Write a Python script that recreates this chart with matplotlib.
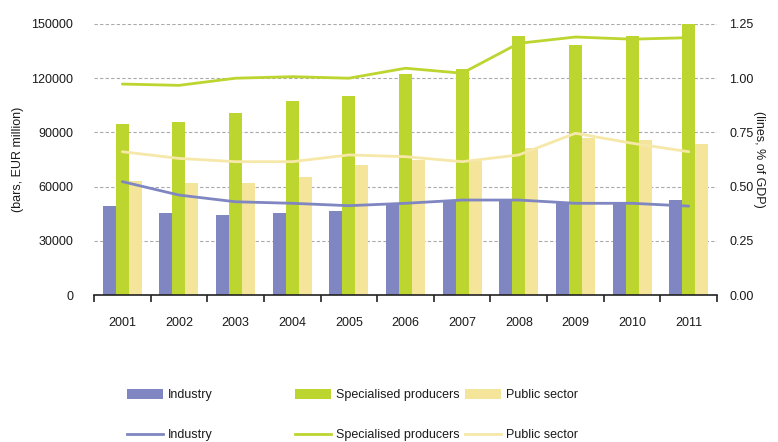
import matplotlib
matplotlib.use("Agg")
import matplotlib.pyplot as plt
import numpy as np
from matplotlib.ticker import FuncFormatter
from matplotlib.patches import Patch
from matplotlib.lines import Line2D

years = ["2001", "2002", "2003", "2004", "2005", "2006", "2007", "2008", "2009", "2010", "2011"]
industry_bars = [49500, 45500, 44300, 45400, 46500, 50700, 52600, 52000, 51000, 51000, 52600]
specialised_bars = [94500, 95800, 100700, 107200, 110300, 122300, 125100, 143500, 138200, 143500, 149800]
public_bars = [63100, 62200, 62200, 65500, 72000, 74700, 74300, 81200, 86700, 85800, 83600]

industry_line = [0.523, 0.461, 0.430, 0.423, 0.412, 0.423, 0.438, 0.438, 0.423, 0.423, 0.410]
specialised_line = [0.973, 0.967, 1.000, 1.007, 1.000, 1.046, 1.023, 1.161, 1.190, 1.180, 1.187]
public_line = [0.661, 0.630, 0.615, 0.615, 0.646, 0.638, 0.615, 0.646, 0.746, 0.700, 0.661]

left_ticks = [0, 30000, 60000, 90000, 120000, 150000]
right_ticks = [0.0, 0.25, 0.5, 0.75, 1.0, 1.25]

c_ind = "#7F86C1"
c_spe = "#BDD52F"
c_pub = "#F4E59B"
c_pub_line = "#F6E8A8"

plt.rcParams['font.family'] = ['Liberation Sans Narrow', 'Liberation Sans', 'DejaVu Sans']
fs = 9
tc = "#1a1a1a"

fig = plt.figure(figsize=(7.78, 4.42), dpi=100)
ax = fig.add_axes([94/778, 1-295/442, (717-94)/778, (295-24)/442])
ax2 = ax.twinx()

x = np.arange(len(years))
w = 0.23
ax.bar(x - w, industry_bars, w, color=c_ind, zorder=2)
ax.bar(x, specialised_bars, w, color=c_spe, zorder=2)
ax.bar(x + w, public_bars, w, color=c_pub, zorder=2)

ax.set_xlim(-0.5, len(years) - 0.5)
ax.set_ylim(0, 150000)
ax.set_yticks(left_ticks)
ax.yaxis.grid(True, linestyle=(0, (3, 2)), color="#AAAAAA", linewidth=0.8, zorder=0)
ax.set_axisbelow(True)
for s in ["top", "left", "right"]:
    ax.spines[s].set_visible(False)
ax.spines["bottom"].set_color("#222222")
ax.spines["bottom"].set_linewidth(1.2)
ax.set_xticks(x)
ax.set_xticklabels(years, fontsize=fs, color=tc)
ax.set_xticks(np.arange(-0.5, len(years)), minor=True)
ax.tick_params(axis="x", which="major", length=0, pad=16)
ax.tick_params(axis="x", which="minor", length=5, width=1.2, color="#222222", direction="out")
ax.tick_params(axis="y", length=0, pad=15, labelsize=fs, labelcolor=tc)
ax.set_ylabel("(bars, EUR million)", fontsize=fs, color=tc, labelpad=5)

ax2.plot(x, industry_line, color=c_ind, lw=2.0, solid_joinstyle="round", solid_capstyle="round")
ax2.plot(x, specialised_line, color=c_spe, lw=2.0, solid_joinstyle="round", solid_capstyle="round")
ax2.plot(x, public_line, color=c_pub_line, lw=2.0, solid_joinstyle="round", solid_capstyle="round")
ax2.set_ylim(0, 1.25)
ax2.set_yticks(right_ticks)
ax2.yaxis.set_major_formatter(FuncFormatter(lambda v, p: f"{v:.2f}"))
ax2.tick_params(axis="y", length=0, pad=9, labelsize=fs, labelcolor=tc)
for s in ["top", "left", "right", "bottom"]:
    ax2.spines[s].set_visible(False)
ax2.set_ylabel("(lines, % of GDP)", fontsize=fs, color=tc, rotation=-90, labelpad=8)

groups = [("Industry", c_ind, c_ind, 127), ("Specialised producers", c_spe, c_spe, 295),
          ("Public sector", c_pub, c_pub_line, 465)]
for name, bc, lc, px in groups:
    handles = [Patch(facecolor=bc, edgecolor="none"), Line2D([], [], color=lc, lw=2.0)]
    leg = fig.legend(handles, [name, name], loc="upper left",
                     bbox_to_anchor=(px/778, 1-389/442), frameon=False, fontsize=fs,
                     handlelength=2.9, handleheight=0.8, handletextpad=0.35,
                     labelspacing=2.25, borderpad=0, borderaxespad=0)
    for t in leg.get_texts():
        t.set_color(tc)

fig.savefig("out.png", dpi=100)
